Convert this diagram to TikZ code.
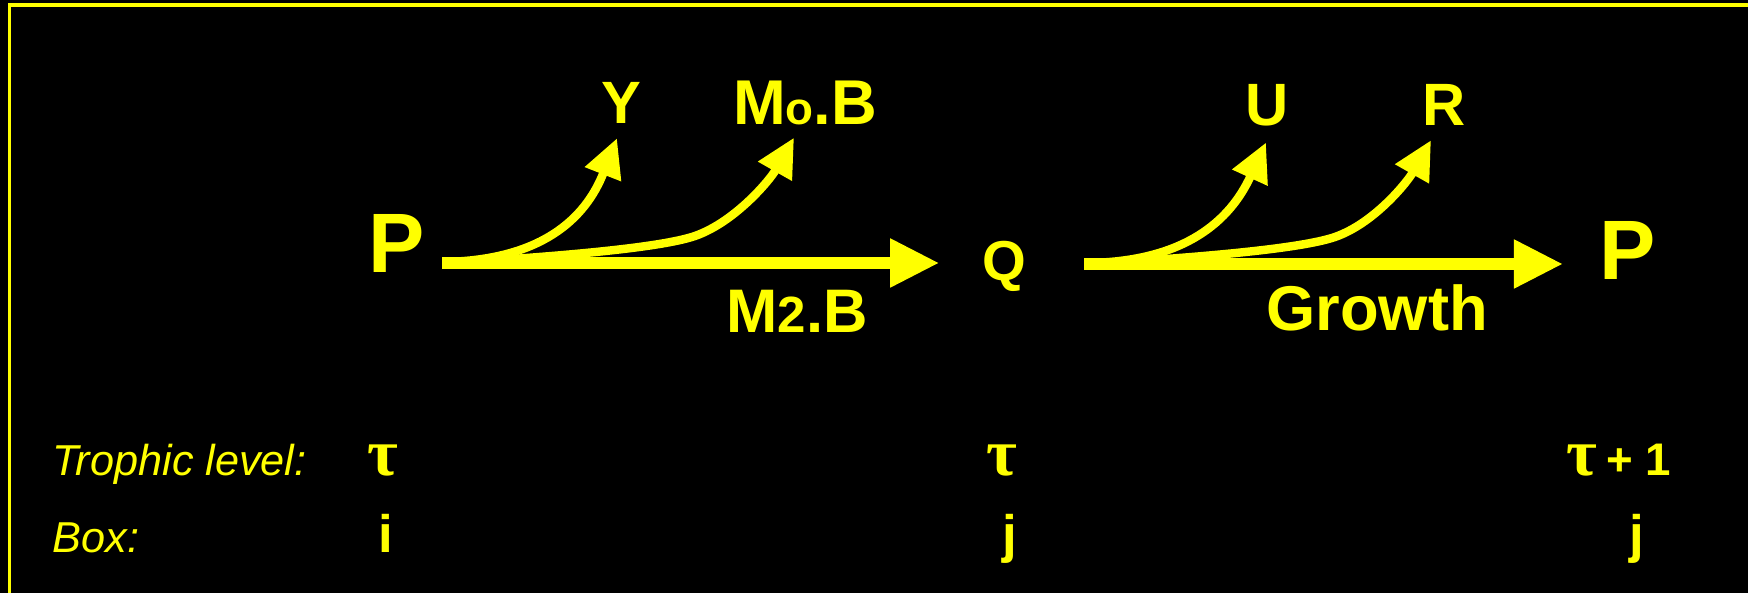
\documentclass[tikz,border=0pt]{standalone}
\usepackage{fontspec}
\setmainfont{Liberation Sans}
\newfontfamily\grk{Liberation Serif}
\usetikzlibrary{arrows.meta}
\definecolor{flowyellow}{RGB}{255,255,0}

\begin{document}
\begin{tikzpicture}[
    big/.style={font=\fontsize{24}{28}\selectfont\bfseries, flowyellow, inner sep=2pt},
    lab/.style={font=\fontsize{17}{20}\selectfont\bfseries, flowyellow, inner sep=2pt},
    row/.style={font=\fontsize{12.3}{14}\selectfont\itshape, flowyellow, anchor=base west, inner sep=0pt},
    val/.style={font=\fontsize{15}{18}\selectfont\bfseries, flowyellow, anchor=base, inner sep=0pt},
    tau/.style={font=\grk\bfseries\fontsize{19}{22}\selectfont, flowyellow, anchor=base, inner sep=0pt},
    main/.style={flowyellow, line width=3.4pt, -{Triangle[length=14pt,width=13pt]}},
    branch/.style={flowyellow, line width=2.4pt, -{Triangle[length=11pt,width=10.5pt]}}
]
% background and frame
\fill[black] (0,0) rectangle (17.48,-5.93);
\useasboundingbox (0,0) rectangle (17.48,-5.93);
\draw[flowyellow, line width=0.95pt] (17.48,-0.05) -- (0.095,-0.05) -- (0.095,-5.93);

% pools
\node[big] (P1) at (3.97,-2.43) {P};
\node[lab, font=\fontsize{16}{19}\selectfont\bfseries] (Q) at (10.04,-2.66) {Q};
\node[big] (P2) at (16.28,-2.50) {P};

% losses
\node[lab] (Y) at (6.21,-1.03) {Y};
\node[lab, font=\fontsize{18}{21}\selectfont\bfseries] (MoB) at (8.05,-1.03) {M{\fontsize{13}{15}\selectfont o}.B};
\node[lab, font=\fontsize{17.5}{21}\selectfont\bfseries] (M2B) at (7.97,-3.11) {M{\fontsize{14.5}{16}\selectfont 2}.B};
\node[lab] (U) at (12.67,-1.05) {U};
\node[lab] (R) at (14.44,-1.05) {R};
\node[lab, font=\fontsize{18}{21}\selectfont\bfseries] (G) at (13.77,-3.08) {Growth};

% flows P -> Q
\coordinate (a0) at (4.42,-2.63);
\draw[main, shorten >=0.35cm] (a0) -- (a0 -| Q.west);
\draw[branch] (4.45,-2.62) .. controls (5.40,-2.60) and (5.85,-2.20) .. ([xshift=-0.04cm,yshift=-0.07cm]Y.south);
\draw[branch] (4.70,-2.62) .. controls (5.60,-2.56) and (6.60,-2.48) .. (6.95,-2.36)
    .. controls (7.35,-2.22) and (7.70,-1.80) .. ([xshift=-0.11cm,yshift=-0.05cm]MoB.south);

% flows Q -> P
\coordinate (b0) at (10.84,-2.64);
\draw[main, shorten >=0.29cm] (b0) -- (b0 -| P2.west);
\draw[branch] (10.90,-2.63) .. controls (11.85,-2.61) and (12.30,-2.21) .. ([xshift=-0.01cm,yshift=-0.09cm]U.south);
\draw[branch] (11.10,-2.63) .. controls (12.00,-2.57) and (13.00,-2.49) .. (13.35,-2.37)
    .. controls (13.75,-2.23) and (14.08,-1.81) .. ([xshift=-0.13cm,yshift=-0.07cm]R.south);

% table
\node[row] (tl) at (0.52,-4.76) {Trophic level:};
\node[row] (bx) at (0.52,-5.53) {Box:};
\node[tau] (t1) at (3.83,-4.76) {τ};
\node[tau] (t2) at (10.02,-4.76) {τ};
\node[tau] (t3) at (15.82,-4.76) {τ};
\node[val, font=\fontsize{13}{15}\selectfont\bfseries] (p1) at (16.39,-4.76) {+ 1};
\node[val] (i1) at (3.86,-5.53) {i};
\node[val] (j1) at (10.10,-5.53) {j};
\node[val] (j2) at (16.37,-5.53) {j};
\end{tikzpicture}
\end{document}
